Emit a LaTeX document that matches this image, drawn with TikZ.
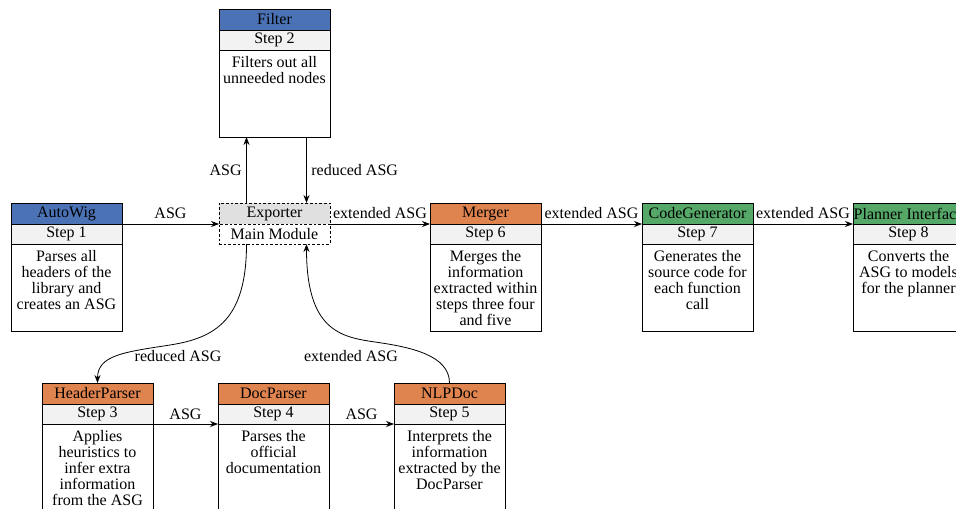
\documentclass[tikz,border=0pt]{standalone}
\usepackage{fontspec}
\setmainfont{Liberation Serif}
\usetikzlibrary{arrows.meta}
\usetikzlibrary{positioning}

\definecolor{wigblue}{HTML}{4A72B5}
\definecolor{parseorange}{HTML}{E0844F}
\definecolor{gengreen}{HTML}{55A868}
\definecolor{rowgray}{HTML}{F2F2F2}
\definecolor{exportgray}{HTML}{E0E0E0}

\newcommand{\boxtext}[1]{\parbox[t][56pt][t]{81pt}{\centering #1}}

\tikzset{
  cell/.style={draw, line width=0.6pt, minimum width=83.25pt, inner sep=0pt,
    outer sep=0pt, font=\fontsize{12}{12}\selectfont},
  headrow/.style={cell, minimum height=15.75pt, fill=#1, anchor=north},
  steprow/.style={cell, minimum height=15pt, fill=rowgray},
  bodyrow/.style={cell, minimum height=65.25pt, inner ysep=4.5pt},
  mainrow/.style={dash pattern=on 2pt off 1.5pt},
  arrow/.style={line width=0.6pt, -{Stealth[length=6pt,width=4.5pt]}},
  lbl/.style={font=\fontsize{12}{12}\selectfont}
}

\begin{document}
\begin{tikzpicture}[x=0.75pt, y=-0.75pt, every node/.append style={lbl}]
  \clip (0,0) rectangle (956,509);

  % top row
  \node[headrow=wigblue] (autowig) at (66.5,203) {AutoWig};
  \node[steprow, below=0pt of autowig] (autowig-s) {Step 1};
  \node[bodyrow, below=0pt of autowig-s] (autowig-b) {\boxtext{Parses all\\headers of the\\library and\\creates an ASG}};

  \node[headrow=wigblue] (filter) at (274.5,9) {Filter};
  \node[steprow, below=0pt of filter] (filter-s) {Step 2};
  \node[bodyrow, below=0pt of filter-s] (filter-b) {\boxtext{Filters out all\\unneeded nodes}};

  \node[headrow=exportgray, mainrow] (exporter) at (274.5,203) {Exporter};
  \node[steprow, fill=white, mainrow, below=0pt of exporter] (exporter-s) {Main Module};

  \node[headrow=parseorange] (merger) at (485.5,203) {Merger};
  \node[steprow, below=0pt of merger] (merger-s) {Step 6};
  \node[bodyrow, below=0pt of merger-s] (merger-b) {\boxtext{Merges the\\information\\extracted within\\steps three four\\and five}};

  \node[headrow=gengreen] (codegen) at (697.5,203) {CodeGenerator};
  \node[steprow, below=0pt of codegen] (codegen-s) {Step 7};
  \node[bodyrow, below=0pt of codegen-s] (codegen-b) {\boxtext{Generates the\\source code for\\each function\\call}};

  \node[headrow=gengreen] (planner) at (908.5,203) {Planner Interface};
  \node[steprow, below=0pt of planner] (planner-s) {Step 8};
  \node[bodyrow, below=0pt of planner-s] (planner-b) {\boxtext{Converts the\\ASG to models\\for the planner}};

  % bottom row
  \node[headrow=parseorange] (headerparser) at (97.5,383) {HeaderParser};
  \node[steprow, below=0pt of headerparser] (headerparser-s) {Step 3};
  \node[bodyrow, below=0pt of headerparser-s] (headerparser-b) {\boxtext{Applies\\heuristics to\\infer extra\\information\\from the ASG}};

  \node[headrow=parseorange] (docparser) at (273.5,383) {DocParser};
  \node[steprow, below=0pt of docparser] (docparser-s) {Step 4};
  \node[bodyrow, below=0pt of docparser-s] (docparser-b) {\boxtext{Parses the\\official\\documentation}};

  \node[headrow=parseorange] (nlpdoc) at (449.5,383) {NLPDoc};
  \node[steprow, below=0pt of nlpdoc] (nlpdoc-s) {Step 5};
  \node[bodyrow, below=0pt of nlpdoc-s] (nlpdoc-b) {\boxtext{Interprets the\\information\\extracted by the\\DocParser}};

  % connectors
  \draw[arrow] (autowig.south east) -- node[above] {ASG} (exporter.south west);
  \draw[arrow] (exporter.south east) -- node[above] {extended ASG} (merger.south west);
  \draw[arrow] (merger.south east) -- node[above] {extended ASG} (codegen.south west);
  \draw[arrow] (codegen.south east) -- node[above] {extended ASG} (planner.south west);

  \draw[arrow] ([xshift=-21pt]exporter.north) -- node[left] {ASG} ([xshift=-21pt]filter-b.south);
  \draw[arrow] ([xshift=24pt]filter-b.south) -- node[right] {reduced ASG} ([xshift=24pt]exporter.north);

  \coordinate (redmid) at (170,345);
  \coordinate (extmid) at (375,342);
  \draw[arrow] ([xshift=-21pt]exporter-s.south) .. controls +(0,76) and +(45,-7) .. (redmid)
    .. controls +(-45,7) and +(0,-28) .. (headerparser.north);
  \draw[arrow] (nlpdoc.north) .. controls +(0,-28) and +(35,5) .. (extmid)
    .. controls +(-35,-5) and +(0,86) .. ([xshift=24pt]exporter-s.south);
  \node (redlbl) at (178,356) {reduced ASG};
  \node (extlbl) at (351,356) {extended ASG};

  \draw[arrow] (headerparser-s.south east) -- node[above] {ASG} (docparser-s.south west);
  \draw[arrow] (docparser-s.south east) -- node[above] {ASG} (nlpdoc-s.south west);
\end{tikzpicture}
\end{document}
